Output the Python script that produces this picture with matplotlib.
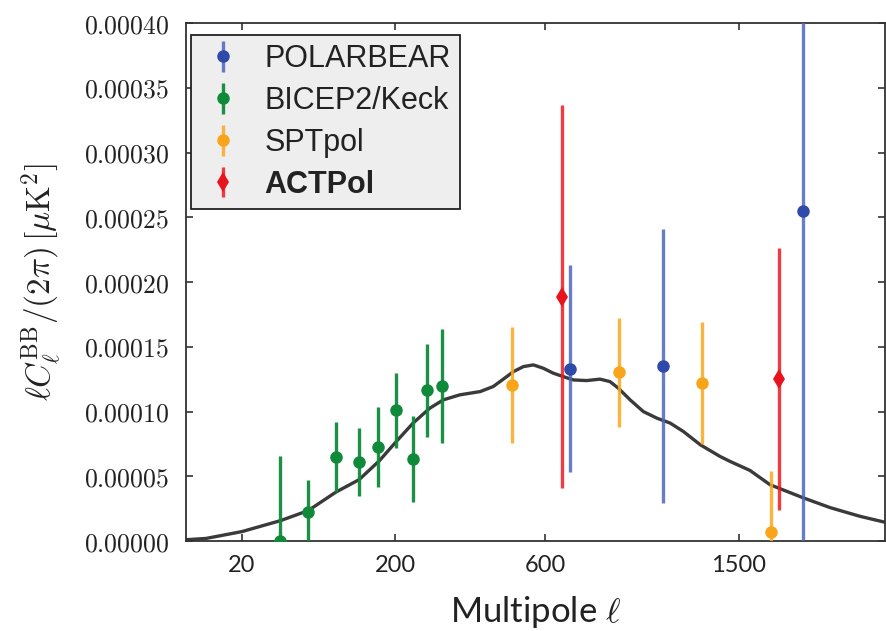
import numpy as np
import matplotlib
matplotlib.use("Agg")
import matplotlib.pyplot as plt
from matplotlib.ticker import FixedLocator, FuncFormatter, NullLocator

plt.rcParams['mathtext.fontset'] = 'cm'

# ---------------- data ----------------
theory_ell = [2, 6, 20, 46, 72, 105, 138, 171, 202, 235, 271, 302, 343, 397, 434,
              464, 495, 527, 560, 594, 629, 665, 703, 755, 809, 851, 887, 939, 999,
              1063, 1128, 1195, 1284, 1392, 1448, 1565, 1687, 1898, 2085, 2300, 2490]
theory_val = [0.010e-4, 0.020e-4, 0.073e-4, 0.158e-4, 0.235e-4, 0.378e-4, 0.474e-4,
              0.620e-4, 0.770e-4, 0.911e-4, 1.026e-4, 1.090e-4, 1.129e-4, 1.154e-4,
              1.193e-4, 1.250e-4, 1.308e-4, 1.347e-4, 1.360e-4, 1.334e-4, 1.296e-4,
              1.270e-4, 1.244e-4, 1.239e-4, 1.250e-4, 1.231e-4, 1.180e-4, 1.090e-4,
              1.000e-4, 0.949e-4, 0.911e-4, 0.846e-4, 0.743e-4, 0.653e-4, 0.615e-4,
              0.545e-4, 0.435e-4, 0.335e-4, 0.258e-4, 0.191e-4, 0.145e-4]

pb_ell = [690, 1095, 1900]
pb_val = [1.33e-4, 1.35e-4, 2.55e-4]
pb_err = [0.80e-4, 1.06e-4, 2.70e-4]

bk_ell = [45, 72, 105, 138, 169, 201, 235, 265, 299]
bk_val = [0.0, 0.224e-4, 0.647e-4, 0.609e-4, 0.724e-4, 1.01e-4, 0.632e-4, 1.164e-4, 1.195e-4]
bk_err = [0.66e-4, 0.25e-4, 0.27e-4, 0.26e-4, 0.31e-4, 0.29e-4, 0.33e-4, 0.36e-4, 0.44e-4]

spt_ell = [490, 888, 1294, 1693]
spt_val = [1.206e-4, 1.302e-4, 1.223e-4, 0.073e-4]
spt_err = [0.45e-4, 0.42e-4, 0.47e-4, 0.465e-4]

act_ell = [662, 1745]
act_val = [1.886e-4, 1.252e-4]
act_err = [1.48e-4, 1.01e-4]

xticks = [20, 200, 600, 1500]
yticks = [0.0, 0.00005, 0.0001, 0.00015, 0.0002, 0.00025, 0.0003, 0.00035, 0.0004]

# ---------------- figure ----------------
fig = plt.figure(figsize=(8.87, 6.31), dpi=100)
ax = fig.add_axes([0.2097, 0.1426, 0.7880, 0.8209])

p = 0.44
ax.set_xscale('function', functions=(lambda x: np.power(np.clip(x, 0, None), p),
                                     lambda y: np.power(np.clip(y, 0, None), 1.0 / p)))

ax.plot(theory_ell, theory_val, color='#3a3a3a', lw=2.4, zorder=2,
        solid_capstyle='round', solid_joinstyle='round')

def eb(x, y, e, col, ecol, marker, ms, label):
    return ax.errorbar(x, y, yerr=e, fmt=marker, color=col, ecolor=ecol, ms=ms,
                       elinewidth=2.4, capsize=0, mew=0, label=label, zorder=3)

eb(pb_ell, pb_val, pb_err, '#2f4aa8', (0.30, 0.40, 0.75, 0.85), 'o', 9, 'POLARBEAR')
eb(bk_ell, bk_val, bk_err, '#0f8a3a', (0.06, 0.54, 0.23, 0.95), 'o', 9, 'BICEP2/Keck')
eb(spt_ell, spt_val, spt_err, '#f9a51b', (0.98, 0.66, 0.12, 0.85), 'o', 9, 'SPTpol')
eb(act_ell, act_val, act_err, '#e8141c', (0.93, 0.10, 0.13, 0.85), 'd', 10, 'ACTPol')

ax.set_xlim(1.95, 2490)
ax.set_ylim(0, 0.0004)

ax.xaxis.set_major_locator(FixedLocator(xticks))
ax.xaxis.set_minor_locator(NullLocator())
ax.xaxis.set_major_formatter(FuncFormatter(lambda v, pos: f"{int(round(v))}"))
ax.yaxis.set_major_locator(FixedLocator(yticks))
ax.yaxis.set_major_formatter(FuncFormatter(lambda v, pos: f"${v:.5f}$"))

ax.tick_params(axis='both', which='major', direction='in', length=5, width=1.2,
               top=True, right=True, color='#333333')
for lab in ax.get_xticklabels():
    lab.set_fontfamily('Lato')
    lab.set_fontsize(17)
    lab.set_color('#222222')
for lab in ax.get_yticklabels():
    lab.set_fontsize(18.5)
    lab.set_color('#222222')
ax.tick_params(axis='x', pad=10)
ax.tick_params(axis='y', pad=12)

for s in ax.spines.values():
    s.set_linewidth(1.3)
    s.set_color('#333333')

ax.set_xlabel(r"Multipole $\ell$", fontfamily='Lato', fontsize=25, color='#222222', labelpad=13)
ax.set_ylabel(r"$\ell C_\ell^{\rm BB}/(2\pi)\,[\mu{\rm K}^2]$", fontsize=24, color='#222222')
ax.yaxis.set_label_coords(-0.175, 0.5)

leg = ax.legend(loc='upper left', bbox_to_anchor=(0.0072, 0.977), borderaxespad=0,
                prop={'family': 'Liberation Sans', 'size': 22},
                frameon=True, fancybox=False, framealpha=1.0, facecolor='#eeeeee',
                edgecolor='#222222', labelspacing=0.39, handletextpad=0.64,
                handlelength=1.46, borderpad=0.3, numpoints=1)
leg.get_frame().set_linewidth(1.3)
for t in leg.get_texts():
    t.set_color('#222222')
    if t.get_text() == 'ACTPol':
        t.set_fontweight('bold')

fig.savefig('out.png', dpi=100)
